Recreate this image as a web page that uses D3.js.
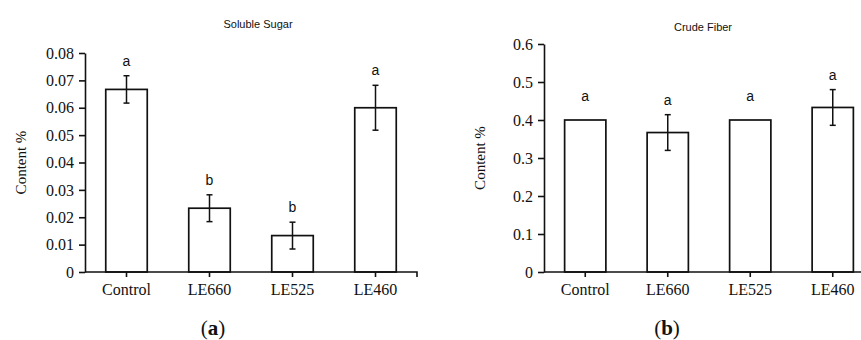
<!DOCTYPE html>
<html>
<head>
<meta charset="utf-8">
<script src="https://cdn.jsdelivr.net/npm/d3@7"></script>
<style>
  html, body { margin: 0; padding: 0; background: #fff; }
  svg { display: block; }
  .serif { font-family: "Liberation Serif", "Times New Roman", serif; }
  .sans { font-family: "Liberation Sans", Arial, sans-serif; }
</style>
</head>
<body>
<svg id="fig" width="861" height="340"></svg>
<script>
// Treatments shared by both panels
const categories = ["Control", "LE660", "LE525", "LE460"];

// Panel (a): soluble sugar content
const sugarMeans = [0.0667, 0.0233, 0.0133, 0.0600];
const sugarErrors = [0.0050, 0.0049, 0.0049, 0.0082];
const sugarLetters = ["a", "b", "b", "a"];
const sugarTicks = [0, 0.01, 0.02, 0.03, 0.04, 0.05, 0.06, 0.07, 0.08];

// Panel (b): crude fiber content
const fiberMeans = [0.400, 0.367, 0.400, 0.433];
const fiberErrors = [0, 0.047, 0, 0.047];
const fiberLetters = ["a", "a", "a", "a"];
const fiberTicks = [0, 0.1, 0.2, 0.3, 0.4, 0.5, 0.6];

const svg = d3.select("#fig");
const serif = '"Liberation Serif", "Times New Roman", serif';
const sans = '"Liberation Sans", Arial, sans-serif';

function panel(opts) {
  const g = svg.append("g");
  const x = d3.scaleBand().domain(categories).range([opts.left, opts.right]).paddingInner(0.5).paddingOuter(0.25);
  const y = d3.scaleLinear().domain([0, opts.max]).range([opts.bottom, opts.top]);
  const data = categories.map((c, i) => ({ c, v: opts.means[i], e: opts.errors[i], l: opts.letters[i] }));
  const cx = d => x(d.c) + x.bandwidth() / 2;

  // bars
  g.selectAll("rect.bar").data(data).join("rect")
    .attr("class", "bar")
    .attr("x", d => x(d.c))
    .attr("width", x.bandwidth())
    .attr("y", d => y(d.v))
    .attr("height", d => y(0) - y(d.v))
    .attr("fill", "#fff").attr("stroke", "#111").attr("stroke-width", 1.7);

  // error bars
  const cap = 3;
  const eb = g.selectAll("g.err").data(data.filter(d => d.e > 0)).join("g").attr("class", "err")
    .attr("stroke", "#111").attr("stroke-width", 1.5);
  eb.append("line")
    .attr("x1", cx).attr("x2", cx)
    .attr("y1", d => y(d.v - d.e)).attr("y2", d => y(d.v + d.e));
  eb.append("line")
    .attr("x1", d => cx(d) - cap).attr("x2", d => cx(d) + cap)
    .attr("y1", d => y(d.v + d.e)).attr("y2", d => y(d.v + d.e));
  eb.append("line")
    .attr("x1", d => cx(d) - cap).attr("x2", d => cx(d) + cap)
    .attr("y1", d => y(d.v - d.e)).attr("y2", d => y(d.v - d.e));

  // significance letters
  g.selectAll("text.letter").data(data).join("text")
    .attr("class", "letter sans")
    .attr("x", cx)
    .attr("y", d => d.e > 0 ? y(d.v + d.e) - 10 : y(d.v) - 19)
    .attr("text-anchor", "middle")
    .style("font-size", "14px").attr("fill", "#111")
    .text(d => d.l);

  // y axis
  const yAxis = g.append("g").attr("transform", `translate(${opts.left},0)`)
    .call(d3.axisLeft(y).tickValues(opts.ticks).tickSize(6).tickPadding(5).tickSizeOuter(0)
      .tickFormat(d => d === 0 ? "0" : d3.format(opts.fmt)(d)));
  yAxis.attr("font-family", null).attr("font-size", null);
  yAxis.selectAll("path, line").attr("stroke", "#111").attr("stroke-width", 1.6);
  yAxis.selectAll("text").attr("class", "serif").style("font-family", serif).style("font-size", "16px").attr("fill", "#111");

  // x axis
  const xAxis = g.append("g").attr("transform", `translate(0,${opts.bottom})`)
    .call(d3.axisBottom(x).tickSize(5).tickPadding(7).tickSizeOuter(0));
  xAxis.attr("font-family", null).attr("font-size", null);
  xAxis.select("path.domain").attr("d", opts.endTick
    ? `M${opts.left},0H${opts.right}V5`
    : `M${opts.left},0H${opts.right}`);
  xAxis.selectAll("path, line").attr("stroke", "#111").attr("stroke-width", 1.6).attr("fill", "none");
  xAxis.selectAll("text").attr("class", "serif").style("font-family", serif).style("font-size", "16px").attr("fill", "#111");

  // title
  g.append("text").attr("class", "sans").attr("x", opts.titleX).attr("y", opts.titleY)
    .attr("text-anchor", "middle").style("font-size", "11px").attr("fill", "#111")
    .text(opts.title);

  // y label
  g.append("text").attr("class", "serif")
    .attr("transform", `translate(${opts.left - 59},${(opts.top + opts.bottom) / 2}) rotate(-90)`)
    .attr("text-anchor", "middle").style("font-size", "15px").attr("fill", "#111")
    .text("Content %");

  // panel tag
  const tag = g.append("text").attr("class", "serif").attr("x", opts.tagX).attr("y", 335)
    .attr("text-anchor", "middle").style("font-size", "21px").attr("fill", "#111");
  tag.append("tspan").text("(");
  tag.append("tspan").attr("font-weight", "bold").text(opts.tag);
  tag.append("tspan").text(")");
}

panel({
  left: 85, right: 417, top: 53, bottom: 272, max: 0.08,
  means: sugarMeans, errors: sugarErrors, letters: sugarLetters, ticks: sugarTicks, fmt: ".2f",
  title: "Soluble Sugar", titleX: 258, titleY: 28, tag: "a", tagX: 213, endTick: true
});

panel({
  left: 544, right: 874, top: 44, bottom: 272, max: 0.6,
  means: fiberMeans, errors: fiberErrors, letters: fiberLetters, ticks: fiberTicks, fmt: ".1f",
  title: "Crude Fiber", titleX: 703, titleY: 31, tag: "b", tagX: 667, endTick: false
});
</script>
</body>
</html>
